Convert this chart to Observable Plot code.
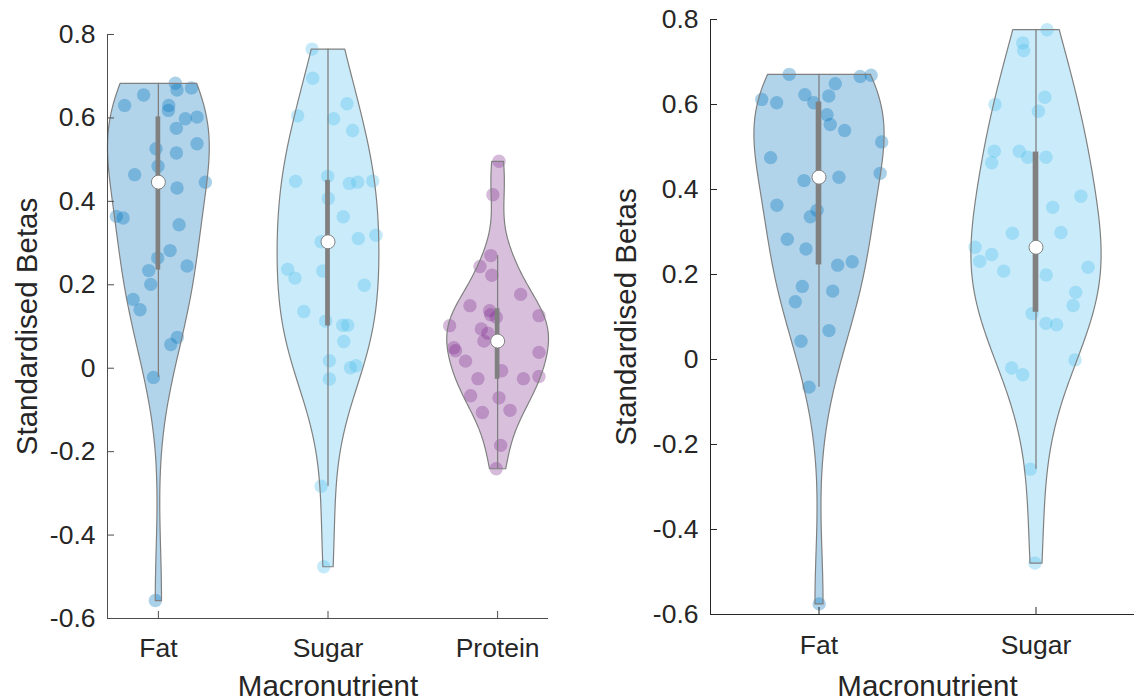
<!DOCTYPE html>
<html>
<head>
<meta charset="utf-8">
<script src="https://cdn.jsdelivr.net/npm/d3@7"></script>
<script src="https://cdn.jsdelivr.net/npm/@observablehq/plot@0.6"></script>
<style>
html, body { margin: 0; padding: 0; background: #fff; overflow: hidden; }
#wrap { display: flex; width: 1134px; height: 700px; }
#wrap svg { display: block; }
</style>
</head>
<body>
<div id="wrap"></div>
<script>
// ---------- data ----------
const leftCategories = ["Fat", "Sugar", "Protein"];
const rightCategories = ["Fat", "Sugar"];
const categoryColors = {Fat: "#0072BD", Sugar: "#4DBEEE", Protein: "#7E2F8E"};
const yTicks = [-0.6, -0.4, -0.2, 0, 0.2, 0.4, 0.6, 0.8];
const yTickLabels = ["-0.6", "-0.4", "-0.2", "0", "0.2", "0.4", "0.6", "0.8"];
const yLabel = "Standardised Betas";
const xLabel = "Macronutrient";

// Left panel
const leftFatBetas = [0.683, 0.667, 0.672, 0.655, 0.630, 0.630, 0.618, 0.598, 0.602, 0.575, 0.538, 0.526, 0.516, 0.484, 0.464, 0.446, 0.432, 0.364, 0.360, 0.344, 0.282, 0.264, 0.245, 0.234, 0.201, 0.165, 0.140, 0.074, 0.057, -0.022, -0.557];
const leftFatJitter = [0.100, 0.110, 0.195, -0.087, -0.199, 0.061, 0.059, 0.159, 0.228, 0.106, 0.228, -0.014, 0.106, -0.002, -0.140, 0.277, 0.110, -0.248, -0.208, 0.122, 0.069, -0.004, 0.169, -0.057, -0.045, -0.149, -0.108, 0.112, 0.073, -0.029, -0.018];

const leftSugarBetas = [0.765, 0.695, 0.605, 0.634, 0.598, 0.570, 0.448, 0.460, 0.407, 0.443, 0.446, 0.449, 0.363, 0.319, 0.311, 0.303, 0.233, 0.237, 0.216, 0.199, 0.136, 0.113, 0.103, 0.103, 0.064, 0.018, 0.006, 0.001, -0.026, -0.283, -0.476];
const leftSugarJitter = [-0.094, -0.090, -0.179, 0.112, 0.033, 0.145, -0.191, -0.002, 0.002, 0.126, 0.175, 0.264, 0.090, 0.283, 0.179, -0.041, -0.031, -0.238, -0.195, 0.214, -0.143, -0.014, 0.087, 0.116, 0.093, 0.008, 0.165, 0.132, 0.008, -0.041, -0.025];

const leftProteinBetas = [0.496, 0.416, 0.270, 0.244, 0.223, 0.177, 0.150, 0.138, 0.128, 0.122, 0.126, 0.102, 0.094, 0.084, 0.065, 0.049, 0.042, 0.038, 0.017, -0.006, -0.025, -0.025, -0.020, -0.066, -0.071, -0.101, -0.106, -0.185, -0.241];
const leftProteinJitter = [0.008, -0.028, -0.040, -0.104, -0.034, 0.136, -0.163, -0.047, -0.041, -0.008, 0.244, -0.283, -0.096, -0.057, -0.081, -0.258, -0.248, 0.244, -0.189, 0.024, -0.116, 0.152, 0.244, -0.159, 0.008, 0.073, -0.090, 0.018, -0.008];

// Right panel
const rightFatBetas = [0.671, 0.666, 0.669, 0.649, 0.612, 0.604, 0.623, 0.604, 0.620, 0.576, 0.553, 0.539, 0.512, 0.475, 0.438, 0.429, 0.421, 0.363, 0.351, 0.336, 0.283, 0.260, 0.222, 0.230, 0.172, 0.136, 0.161, 0.068, 0.043, -0.065, -0.575];
const rightFatJitter = [-0.137, 0.190, 0.240, 0.075, -0.264, -0.195, -0.065, -0.024, 0.045, 0.037, 0.052, 0.118, 0.289, -0.223, 0.282, 0.092, -0.069, -0.194, -0.009, -0.040, -0.146, -0.060, 0.086, 0.153, -0.077, -0.109, 0.063, 0.046, -0.083, -0.046, 0.001];

const rightSugarBetas = [0.776, 0.745, 0.727, 0.600, 0.617, 0.584, 0.490, 0.463, 0.490, 0.476, 0.476, 0.384, 0.358, 0.297, 0.299, 0.264, 0.231, 0.247, 0.208, 0.199, 0.217, 0.158, 0.127, 0.108, 0.085, 0.082, -0.001, -0.020, -0.036, -0.258, -0.479];
const rightSugarJitter = [0.051, -0.061, -0.057, -0.189, 0.041, 0.011, -0.192, -0.204, -0.077, -0.038, 0.046, 0.207, 0.077, -0.109, 0.115, -0.281, -0.259, -0.204, -0.149, 0.047, 0.240, 0.183, 0.171, -0.018, 0.046, 0.095, 0.180, -0.112, -0.061, -0.026, -0.005];

// ---------- helpers ----------
const yLabelOf = new Map(yTicks.map((t, i) => [t, yTickLabels[i]]));
const yDomain = [yTicks[0], yTicks[yTicks.length - 1]];

// violin outline from a Gaussian kernel density (MATLAB ksdensity default bandwidth), cut at min / max
function violinShape(values, pos, halfWidth = 0.3, n = 100) {
  const N = values.length;
  const med = d3.median(values);
  const sig = d3.median(values, v => Math.abs(v - med)) / 0.6745;
  const bw = sig * Math.pow(4 / (3 * N), 0.2);
  const lo = d3.min(values), hi = d3.max(values);
  const grid = d3.range(n).map(i => lo + (hi - lo) * i / (n - 1));
  const dens = grid.map(g => d3.sum(values, v => Math.exp(-0.5 * ((g - v) / bw) ** 2)));
  const mx = d3.max(dens);
  const right = grid.map((g, i) => ({x: pos + halfWidth * dens[i] / mx, y: g}));
  const left = grid.map((g, i) => ({x: pos - halfWidth * dens[i] / mx, y: g})).reverse();
  return [...right, ...left, right[0]];
}

function matlabQuantile(s, p) {
  const n = s.length;
  const q = p * n + 0.5;
  if (q <= 1) return s[0];
  if (q >= n) return s[n - 1];
  const lo = Math.floor(q), f = q - lo;
  return s[lo - 1] + f * (s[lo] - s[lo - 1]);
}

function boxStats(values) {
  const s = values.slice().sort((a, b) => a - b);
  const q1 = matlabQuantile(s, 0.25), med = matlabQuantile(s, 0.5), q3 = matlabQuantile(s, 0.75);
  const iqr = q3 - q1;
  const lo = d3.min(s.filter(v => v >= q1 - 1.5 * iqr));
  const hi = d3.max(s.filter(v => v <= q3 + 1.5 * iqr));
  return {q1, med, q3, lo, hi};
}

const FONT = "'Liberation Sans', Arial, Helvetica, sans-serif";

function panel(cfg) {
  const {categories, groups, width, height, marginLeft, marginRight, marginTop, marginBottom,
         xDomain, xFullDomain, axisColor, yLabelDx, xTickPad, xLabelDy, boxHalf} = cfg;
  const marks = [];
  const xTickValues = categories.map((c, i) => i + 1);
  groups.forEach((g, i) => {
    const pos = i + 1;
    const color = categoryColors[categories[i]];
    const shape = violinShape(g.betas, pos);
    const pts = g.betas.map((v, j) => ({x: pos + g.jitter[j], y: v}));
    const st = boxStats(g.betas);
    marks.push(
      Plot.line(shape, {x: "x", y: "y", fill: color, fillOpacity: 0.3, stroke: "none"}),
      Plot.dot(pts, {x: "x", y: "y", r: 6.7, fill: color, fillOpacity: 0.33, stroke: "none"}),
      Plot.line(shape, {x: "x", y: "y", fill: "none", stroke: "#808080", strokeWidth: 1.2}),
      Plot.rect([st], {x1: () => pos - boxHalf, x2: () => pos + boxHalf, y1: "q1", y2: "q3",
                       fill: "#808080", stroke: "#808080", strokeWidth: 1.3}),
      Plot.ruleX([st], {x: () => pos, y1: "lo", y2: "hi", stroke: "#808080", strokeWidth: 1.3}),
      Plot.dot([st], {x: () => pos, y: "med", r: 7, fill: "white", stroke: "#808080", strokeWidth: 1})
    );
  });
  marks.push(
    Plot.ruleY([yDomain[0]], {x1: () => xDomain[0], x2: () => xDomain[1], stroke: axisColor, strokeWidth: 1}),
    Plot.ruleX([xDomain[0]], {y1: () => yDomain[0], y2: () => yDomain[1], stroke: axisColor, strokeWidth: 1}),
    Plot.axisY(yTicks, {tickSize: 7, dx: 7, tickFormat: () => "", stroke: axisColor, label: null}),
    Plot.axisY(yTicks, {tickSize: 0, tickPadding: 12, tickFormat: d => yLabelOf.get(d), fontSize: 26.5, label: null}),
    Plot.axisX(xTickValues, {tickSize: 7, dy: -7, tickFormat: () => "", stroke: axisColor, label: null}),
    Plot.axisX(xTickValues, {tickSize: 0, tickPadding: xTickPad, tickFormat: d => categories[d - 1], fontSize: 26.5, label: null}),
    Plot.text([yLabel], {text: d => d, frameAnchor: "left", dx: yLabelDx, rotate: -90, fontSize: 29.5,
                         textAnchor: "middle", lineAnchor: "bottom", fill: "#262626"}),
    Plot.text([xLabel], {text: d => d, x: () => (xFullDomain[0] + xFullDomain[1]) / 2, frameAnchor: "bottom",
                         dy: xLabelDy, fontSize: 29.5, textAnchor: "middle", lineAnchor: "bottom", fill: "#262626"})
  );
  return Plot.plot({
    width, height, marginLeft, marginRight, marginTop, marginBottom,
    x: {type: "linear", domain: xDomain, axis: null},
    y: {type: "linear", domain: yDomain, axis: null},
    style: {fontFamily: FONT, color: "#262626", background: "white", overflow: "visible"},
    marks
  });
}

const wrap = document.getElementById("wrap");

wrap.appendChild(panel({
  categories: leftCategories,
  groups: [
    {betas: leftFatBetas, jitter: leftFatJitter},
    {betas: leftSugarBetas, jitter: leftSugarJitter},
    {betas: leftProteinBetas, jitter: leftProteinJitter}
  ],
  width: 567, height: 700,
  marginLeft: 107, marginRight: 19, marginTop: 34, marginBottom: 82,
  xDomain: [0.7, 3.3], xFullDomain: [0.7, 3.3],
  axisColor: "#4d4d4d", yLabelDx: -71, xTickPad: 20, xLabelDy: 77, boxHalf: 0.01
}));

wrap.appendChild(panel({
  categories: rightCategories,
  groups: [
    {betas: rightFatBetas, jitter: rightFatJitter},
    {betas: rightSugarBetas, jitter: rightSugarJitter}
  ],
  width: 567, height: 700,
  marginLeft: 143, marginRight: 0, marginTop: 19, marginBottom: 86,
  xDomain: [0.5, 0.5 + 424 / 217], xFullDomain: [0.5, 2.5],
  axisColor: "#262626", yLabelDx: -75, xTickPad: 21, xLabelDy: 81, boxHalf: 0.01
}));
</script>
</body>
</html>
